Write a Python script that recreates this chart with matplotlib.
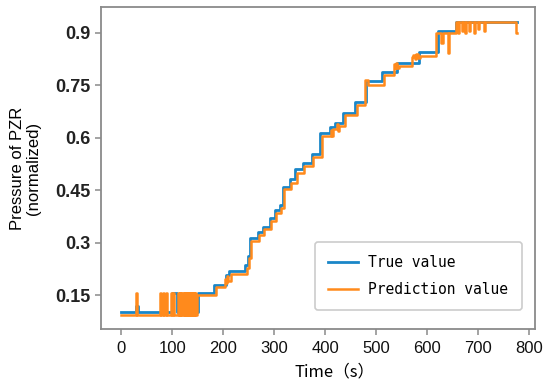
import matplotlib
matplotlib.use("Agg")
import matplotlib.pyplot as plt

# ---- data ----
true_t = [0, 29, 32, 99, 109, 135, 141, 150, 182, 205, 212, 243, 248, 252, 268, 278,
          291, 301, 311, 318, 331, 341, 357, 374, 390, 410, 419, 436, 459, 481, 512,
          541, 584, 622, 656, 776]
true_v = [0.102, 0.118, 0.102, 0.157, 0.102, 0.157, 0.102, 0.157, 0.180, 0.207, 0.220,
          0.236, 0.262, 0.312, 0.331, 0.346, 0.370, 0.393, 0.408, 0.460, 0.482, 0.510,
          0.528, 0.554, 0.614, 0.632, 0.643, 0.672, 0.703, 0.761, 0.789, 0.815, 0.846,
          0.904, 0.932, 0.932]

pred_t = [0, 29, 31, 76, 78, 81, 83, 87, 89, 97, 99, 101, 103, 112, 113, 115, 116, 118,
          119, 121, 122, 124, 125, 127, 128, 130, 131, 133, 134, 136, 137, 139, 140, 142,
          143, 145, 146, 148, 185, 203, 205, 207, 209, 215, 246, 250, 254, 270, 281, 293,
          303, 313, 320, 333, 344, 359, 377, 393, 412, 414, 416, 423, 425, 427, 439, 462,
          479, 484, 515, 536, 538, 540, 542, 545, 570, 573, 576, 579, 582, 587, 618, 628,
          631, 641, 644, 656, 660, 662, 668, 670, 675, 677, 683, 685, 692, 694, 700, 702,
          712, 714, 775, 776]
pred_v = [0.093, 0.156, 0.093, 0.155, 0.093, 0.155, 0.093, 0.155, 0.093, 0.155, 0.093,
          0.155, 0.093, 0.155, 0.093, 0.155, 0.093, 0.155, 0.093, 0.155, 0.093, 0.155,
          0.093, 0.155, 0.093, 0.155, 0.093, 0.155, 0.093, 0.155, 0.093, 0.155, 0.093,
          0.155, 0.093, 0.155, 0.093, 0.150, 0.172, 0.195, 0.185, 0.205, 0.190, 0.210,
          0.228, 0.255, 0.305, 0.322, 0.338, 0.362, 0.385, 0.400, 0.452, 0.472, 0.500,
          0.520, 0.545, 0.605, 0.622, 0.605, 0.625, 0.640, 0.620, 0.635, 0.665, 0.695,
          0.765, 0.750, 0.780, 0.812, 0.800, 0.815, 0.800, 0.805, 0.830, 0.838, 0.825,
          0.840, 0.828, 0.835, 0.900, 0.872, 0.900, 0.843, 0.900, 0.930, 0.900, 0.930,
          0.905, 0.930, 0.900, 0.930, 0.905, 0.930, 0.900, 0.932, 0.910, 0.932, 0.905,
          0.932, 0.900, 0.900]

x_ticks = [0, 100, 200, 300, 400, 500, 600, 700, 800]
y_ticks = [0.15, 0.3, 0.45, 0.6, 0.75, 0.9]
y_tick_labels = ["0.15", "0.3", "0.45", "0.6", "0.75", "0.9"]

fig = plt.figure(figsize=(5.5, 3.87), dpi=100)
ax = fig.add_axes([0.1836, 0.1499, 0.7891, 0.832])

ax.plot(true_t, true_v, drawstyle="steps-post", color="#1a86c8", lw=2.0,
        label="True value")
ax.plot(pred_t, pred_v, drawstyle="steps-post", color="#ff8a1c", lw=1.8,
        label="Prediction value")

ax.set_xlim(-40, 812)
ax.set_ylim(0.053, 0.974)
ax.set_xticks(x_ticks)
ax.set_yticks(y_ticks)
ax.set_yticklabels(y_tick_labels)

spine_c = "#8a8a8a"
for s in ax.spines.values():
    s.set_color(spine_c)
    s.set_linewidth(1.3)
ax.tick_params(direction="out", color=spine_c, length=4, width=1.1)
ax.tick_params(axis="x", pad=5)
for lab in ax.get_xticklabels():
    lab.set_fontfamily("Liberation Sans")
    lab.set_fontsize(12)
    lab.set_color("#111111")
for lab in ax.get_yticklabels():
    lab.set_fontfamily("Liberation Sans")
    lab.set_fontsize(13)
    lab.set_fontweight("bold")
    lab.set_color("#222222")

ax.set_xlabel("Time（s）", fontsize=12, family=["Noto Sans CJK SC", "DejaVu Sans"],
              labelpad=5, fontweight="medium")
ax.xaxis.label.set_x(0.539)
ax.set_ylabel("Pressure of PZR\n(normalized)", fontsize=12, family="Liberation Sans",
              labelpad=10, linespacing=1.1)

leg = ax.legend(loc="lower right", bbox_to_anchor=(0.969, 0.059), borderaxespad=0,
                prop={"family": "DejaVu Sans Mono", "size": 10.5},
                handlelength=2.05, handletextpad=0.7, labelspacing=0.8,
                borderpad=0.9, fancybox=True, framealpha=1, edgecolor="#cccccc")
leg.get_frame().set_linewidth(1.2)

fig.savefig("out.png", dpi=100)
